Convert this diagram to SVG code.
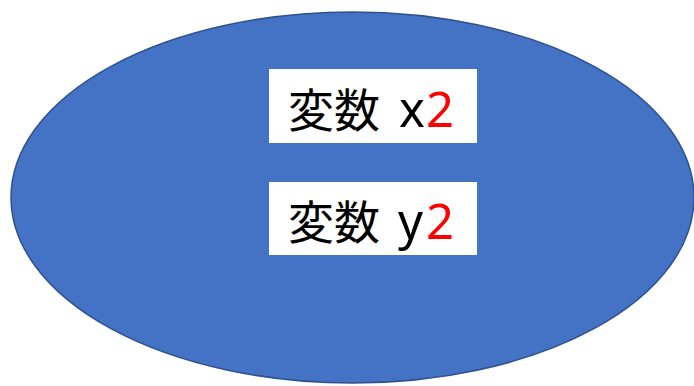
<svg xmlns="http://www.w3.org/2000/svg" width="694" height="386" viewBox="0 0 694 386">
<style>
.box{fill:#ffffff;}
.t{font-family:"Noto Sans CJK JP","Noto Sans",sans-serif;font-size:46px;fill:#000000;}
.l{font-family:"Noto Sans","Noto Sans CJK JP",sans-serif;font-size:49px;}
.r{fill:#ff0000;}
</style>
<rect width="694" height="386" fill="#ffffff"/>
<g id="ellipse">
<ellipse cx="352.5" cy="197.5" rx="341.5" ry="185.5" fill="#4472c4" stroke="#2f528f" stroke-width="1.5"/>
</g>
<g id="var-x2">
<rect class="box" x="269" y="69" width="208" height="74"/>
<text class="t" x="288" y="127">変数<tspan class="l" x="399">x</tspan><tspan class="l r" x="426">2</tspan></text>
</g>
<g id="var-y2">
<rect class="box" x="269" y="182" width="208" height="73"/>
<text class="t" x="288" y="239">変数<tspan class="l" x="398">y</tspan><tspan class="l r" x="426">2</tspan></text>
</g>
<g id="connectors"/>
</svg>
